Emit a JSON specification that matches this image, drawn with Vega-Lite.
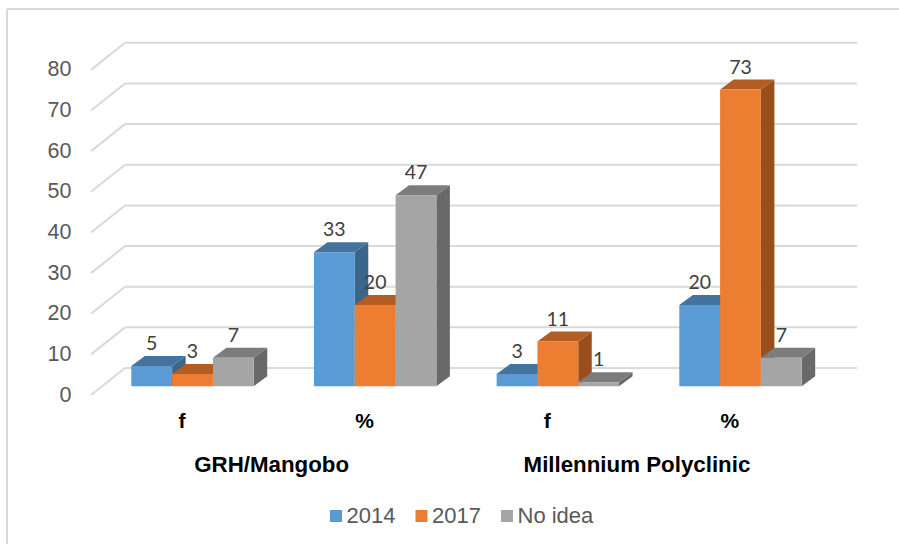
{
  "$schema": "https://vega.github.io/schema/vega-lite/v6.json",
  "width": 892,
  "height": 535,
  "autosize": "none",
  "padding": {"left": 7, "top": 9, "right": 0, "bottom": 0},
  "background": "white",
  "view": {"stroke": null},
  "config": {"font": "Liberation Sans"},
  "datasets": {
    "bars": [
      {"hospital": "GRH/Mangobo", "measure": "f", "series": "2014", "value": 5},
      {"hospital": "GRH/Mangobo", "measure": "f", "series": "2017", "value": 3},
      {"hospital": "GRH/Mangobo", "measure": "f", "series": "No idea", "value": 7},
      {"hospital": "GRH/Mangobo", "measure": "%", "series": "2014", "value": 33},
      {"hospital": "GRH/Mangobo", "measure": "%", "series": "2017", "value": 20},
      {"hospital": "GRH/Mangobo", "measure": "%", "series": "No idea", "value": 47},
      {"hospital": "Millennium Polyclinic", "measure": "f", "series": "2014", "value": 3},
      {"hospital": "Millennium Polyclinic", "measure": "f", "series": "2017", "value": 11},
      {"hospital": "Millennium Polyclinic", "measure": "f", "series": "No idea", "value": 1},
      {"hospital": "Millennium Polyclinic", "measure": "%", "series": "2014", "value": 20},
      {"hospital": "Millennium Polyclinic", "measure": "%", "series": "2017", "value": 73},
      {"hospital": "Millennium Polyclinic", "measure": "%", "series": "No idea", "value": 7}
    ],
    "ticks": [{"tick": 0}, {"tick": 10}, {"tick": 20}, {"tick": 30}, {"tick": 40}, {"tick": 50}, {"tick": 60}, {"tick": 70}, {"tick": 80}]
  },
  "layer": [
    {
      "data": {"name": "ticks"},
      "mark": {"type": "rule", "color": "#D9D9D9", "strokeWidth": 2},
      "transform": [{"calculate": "datum.tick + 4.5", "as": "wall"}],
      "encoding": {
        "x": {"datum": -0.154, "type": "quantitative", "title": null, "axis": null, "scale": {"domain": [-3.047, 18.816], "nice": false, "zero": false}},
        "x2": {"datum": 17.79},
        "y": {"field": "wall", "type": "quantitative", "title": null, "scale": {"domain": [-38.79, 92.82], "nice": false, "zero": false},
          "axis": {"values": [0, 10, 20, 30, 40, 50, 60, 70, 80], "domain": false, "ticks": false, "grid": false, "offset": -64, "labelPadding": 0, "labelOffset": 8.7, "labelFontSize": 21.5, "labelColor": "#595959", "labelFont": "Liberation Sans"}}
      }
    },
    {
      "data": {"name": "ticks"},
      "mark": {"type": "rule", "color": "#D9D9D9", "strokeWidth": 2},
      "transform": [{"calculate": "datum.tick + 4.5", "as": "wall"}, {"calculate": "datum.tick - 2.15", "as": "front"}],
      "encoding": {
        "x": {"datum": -0.988, "type": "quantitative"},
        "x2": {"datum": -0.154},
        "y": {"field": "front", "type": "quantitative"},
        "y2": {"field": "wall"}
      }
    },
    {
      "data": {"name": "ticks"},
      "transform": [{"filter": "datum.tick === 0"}],
      "mark": {"type": "rule", "color": "#D9D9D9", "strokeWidth": 2},
      "encoding": {
        "x": {"datum": -3.047, "type": "quantitative"},
        "y": {"datum": 92.82, "type": "quantitative"},
        "y2": {"datum": -38.79}
      }
    },
    {
      "data": {"name": "ticks"},
      "transform": [{"filter": "datum.tick === 0"}],
      "mark": {"type": "rule", "color": "#D9D9D9", "strokeWidth": 2},
      "encoding": {
        "x": {"datum": -3.047, "type": "quantitative"},
        "x2": {"datum": 18.816},
        "y": {"datum": 92.82, "type": "quantitative"}
      }
    },
    {
      "data": {"name": "bars"},
      "transform": [
        {"calculate": "indexof(['GRH/Mangobo|f','GRH/Mangobo|%','Millennium Polyclinic|f','Millennium Polyclinic|%'], datum.hospital + '|' + datum.measure) * 4.477 + indexof(['2014','2017','No idea'], datum.series)", "as": "x0"},
        {"calculate": "datum.hospital + datum.measure + datum.series", "as": "bar"},
        {"calculate": "[0, 1]", "as": "t"},
        {"flatten": ["t"]},
        {"calculate": "datum.x0 + 1 + datum.t * 0.331", "as": "px"},
        {"calculate": "datum.t * 2.46", "as": "low"},
        {"calculate": "datum.value + datum.t * 2.46", "as": "high"}
      ],
      "mark": {"type": "area", "strokeWidth": 0},
      "encoding": {
        "x": {"field": "px", "type": "quantitative"},
        "y": {"field": "low", "type": "quantitative"},
        "y2": {"field": "high"},
        "detail": {"field": "bar"},
        "color": {"field": "series", "type": "nominal", "legend": null, "scale": {"domain": ["2014", "2017", "No idea"], "range": ["#3B668C", "#974F1C", "#696969"]}}
      }
    },
    {
      "data": {"name": "bars"},
      "transform": [
        {"calculate": "indexof(['GRH/Mangobo|f','GRH/Mangobo|%','Millennium Polyclinic|f','Millennium Polyclinic|%'], datum.hospital + '|' + datum.measure) * 4.477 + indexof(['2014','2017','No idea'], datum.series)", "as": "x0"},
        {"calculate": "datum.hospital + datum.measure + datum.series", "as": "bar"},
        {"calculate": "[0, 1, 2, 3]", "as": "t"},
        {"flatten": ["t"]},
        {"calculate": "datum.x0 + [0, 0.331, 1, 1.331][datum.t]", "as": "px"},
        {"calculate": "datum.value + [0, 0, 0, 2.46][datum.t]", "as": "low"},
        {"calculate": "datum.value + [0, 2.46, 2.46, 2.46][datum.t]", "as": "high"}
      ],
      "mark": {"type": "area", "strokeWidth": 0},
      "encoding": {
        "x": {"field": "px", "type": "quantitative"},
        "y": {"field": "low", "type": "quantitative"},
        "y2": {"field": "high"},
        "detail": {"field": "bar"},
        "color": {"field": "series", "type": "nominal", "legend": null, "scale": {"domain": ["2014", "2017", "No idea"], "range": ["#44739E", "#B45D23", "#7C7C7C"]}}
      }
    },
    {
      "data": {"name": "bars"},
      "transform": [
        {"calculate": "indexof(['GRH/Mangobo|f','GRH/Mangobo|%','Millennium Polyclinic|f','Millennium Polyclinic|%'], datum.hospital + '|' + datum.measure) * 4.477 + indexof(['2014','2017','No idea'], datum.series)", "as": "x0"},
        {"calculate": "datum.x0 + 1", "as": "x1"}
      ],
      "mark": {"type": "bar"},
      "encoding": {
        "x": {"field": "x0", "type": "quantitative"},
        "x2": {"field": "x1"},
        "y": {"field": "value", "type": "quantitative"},
        "y2": {"datum": 0},
        "color": {"field": "series", "type": "nominal", "title": null,
          "scale": {"domain": ["2014", "2017", "No idea"], "range": ["#5B9BD5", "#ED7D31", "#A5A5A5"]},
          "legend": {"orient": "none", "legendX": 318, "legendY": 496, "direction": "horizontal", "columns": 3, "padding": 0, "symbolType": "square", "symbolSize": 144, "symbolStrokeWidth": 0, "labelFontSize": 22, "labelColor": "#595959", "labelOffset": -0.5, "columnPadding": 14.5, "labelFont": "Liberation Sans"}}
      }
    },
    {
      "data": {"name": "bars"},
      "transform": [
        {"calculate": "indexof(['GRH/Mangobo|f','GRH/Mangobo|%','Millennium Polyclinic|f','Millennium Polyclinic|%'], datum.hospital + '|' + datum.measure) * 4.477 + indexof(['2014','2017','No idea'], datum.series) + 0.5", "as": "xc"}
      ],
      "mark": {"type": "text", "font": "Lato", "fontSize": 19.5, "color": "#404040", "dy": -22, "baseline": "middle", "align": "center"},
      "encoding": {
        "x": {"field": "xc", "type": "quantitative"},
        "y": {"field": "value", "type": "quantitative"},
        "text": {"field": "value", "type": "quantitative"}
      }
    },
    {
      "data": {"name": "bars"},
      "transform": [
        {"calculate": "indexof(['GRH/Mangobo|f','GRH/Mangobo|%','Millennium Polyclinic|f','Millennium Polyclinic|%'], datum.hospital + '|' + datum.measure) * 4.477 + 1.24", "as": "xc"},
        {"aggregate": [{"op": "mean", "field": "xc", "as": "xm"}], "groupby": ["hospital", "measure"]}
      ],
      "mark": {"type": "text", "font": "Liberation Sans", "fontWeight": "bold", "fontSize": 21, "color": "#000000", "baseline": "middle", "align": "center"},
      "encoding": {
        "x": {"field": "xm", "type": "quantitative"},
        "y": {"datum": -8.7, "type": "quantitative"},
        "text": {"field": "measure", "type": "nominal"}
      }
    },
    {
      "data": {"name": "bars"},
      "transform": [
        {"calculate": "indexof(['GRH/Mangobo|f','GRH/Mangobo|%','Millennium Polyclinic|f','Millennium Polyclinic|%'], datum.hospital + '|' + datum.measure) * 4.477 + 1.2", "as": "xc"},
        {"aggregate": [{"op": "mean", "field": "xc", "as": "xm"}], "groupby": ["hospital"]}
      ],
      "mark": {"type": "text", "font": "Liberation Sans", "fontWeight": "bold", "fontSize": 22.3, "color": "#000000", "baseline": "middle", "align": "center"},
      "encoding": {
        "x": {"field": "xm", "type": "quantitative"},
        "y": {"datum": -19.4, "type": "quantitative"},
        "text": {"field": "hospital", "type": "nominal"}
      }
    }
  ],
  "resolve": {"scale": {"color": "independent"}}
}
